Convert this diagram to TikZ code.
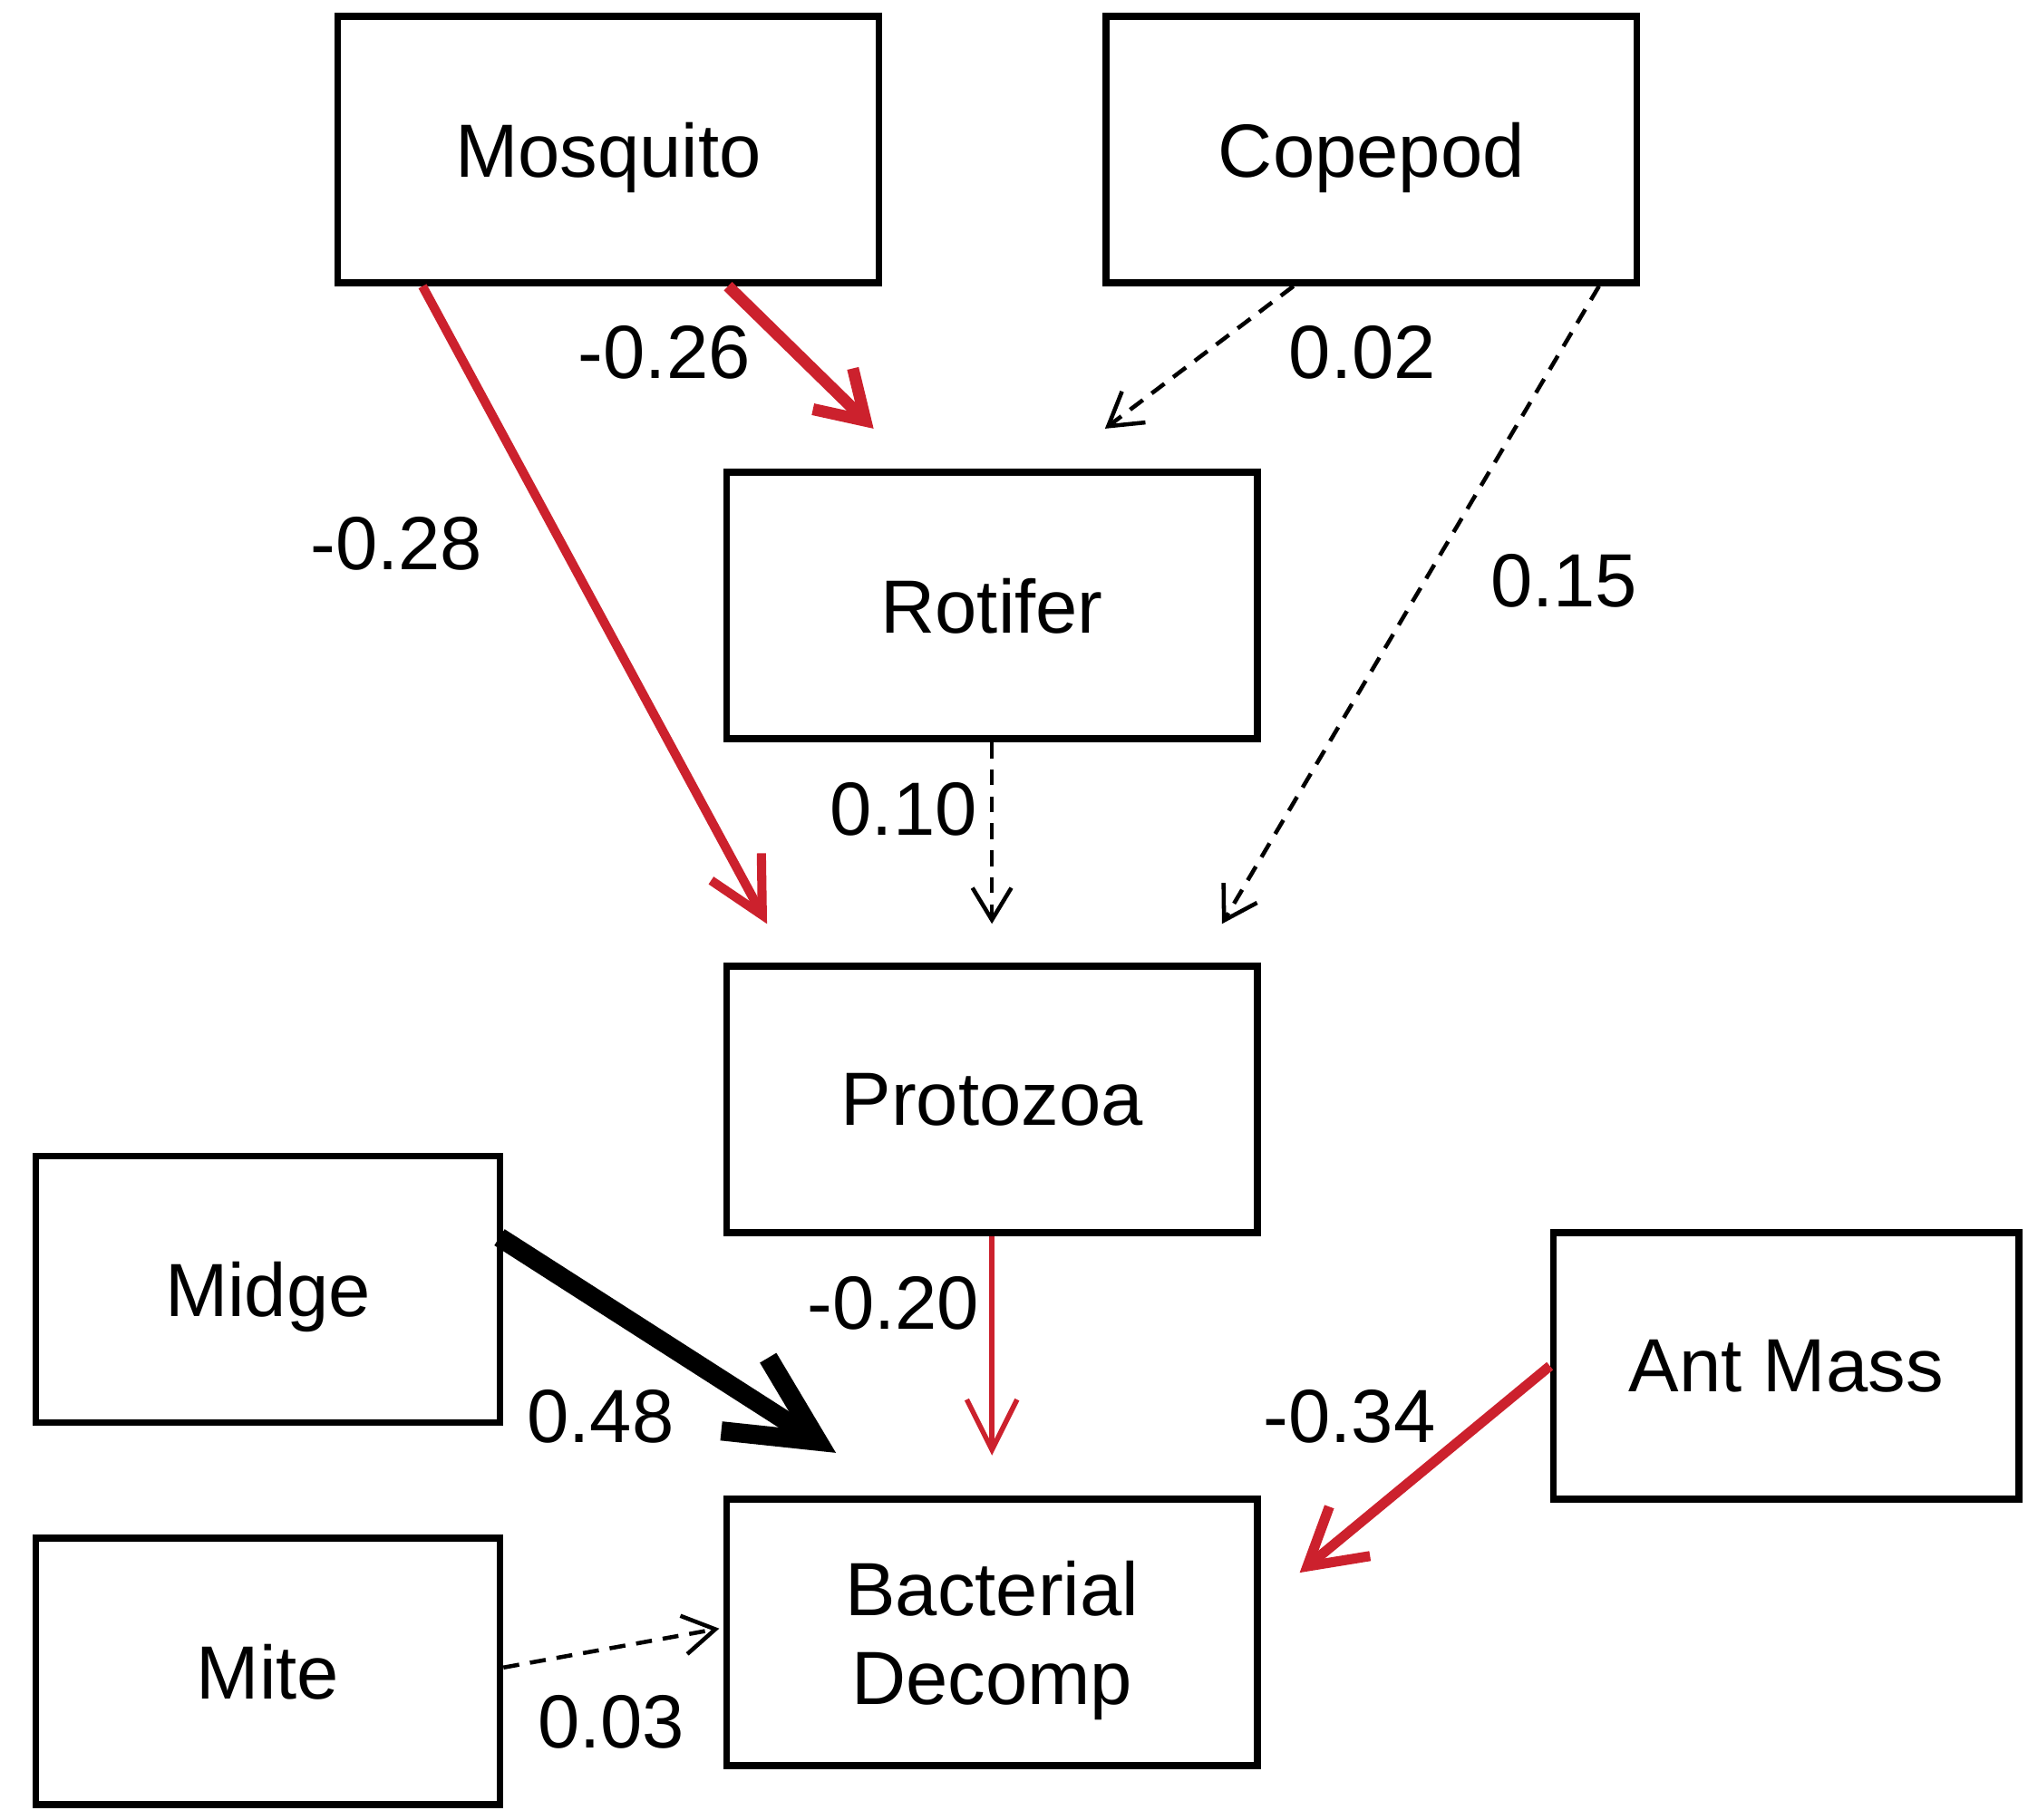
\documentclass[tikz,border=0pt]{standalone}
\usepackage{fontspec}
\setmainfont{Liberation Sans}
\usetikzlibrary{arrows.meta,calc}
\definecolor{pathred}{RGB}{204,33,45}

\begin{document}
\begin{tikzpicture}[x=0.01cm,y=0.01cm,
		font=\fontsize{16.5}{19.5}\selectfont,
		taxon/.style={draw,line width=1.5pt,minimum width=4.08cm,minimum height=2.05cm,align=center,text depth=0pt},
		side/.style={taxon,minimum width=3.57cm},
		coef/.style={inner sep=0pt},
		neg/.style={draw=pathred},
		weak/.style={dash pattern=on 3.5pt off 2.4pt,line width=0.9pt,-{Straight Barb[length=7pt,width=8.5pt]}}]
		\useasboundingbox (0,0) rectangle (1560,1400);
		\node[taxon,minimum width=4.16cm] (mos) at (468,1285) {Mosquito};
		\node[taxon] (cop) at (1055,1285) {Copepod};
		\node[taxon] (rot) at (763,934) {Rotifer};
		\node[taxon] (pro) at (763,554) {Protozoa};
		\node[taxon] (bac) at (763,144) {Bacterial\\Decomp};
		\node[side] (mid) at (206,408) {Midge};
		\node[side] (mit) at (206,114) {Mite};
		\node[side,minimum width=3.58cm] (ant) at (1374,349) {Ant Mass};
		\draw[neg,line width=2.6pt,-{Straight Barb[length=10pt,width=12.5pt]}] ($(mos.south)+(92,0)$) -- ($(rot.north)+(-91,31)$);
		\draw[neg,line width=2pt,-{Straight Barb[length=12pt,width=12.5pt]}] ($(mos.south)+(-143,0)$) -- ($(pro.north)+(-173,30)$);
		\draw[weak] ($(cop.south)+(-60,0)$) -- ($(rot.north)+(87,31)$);
		\draw[weak] ($(cop.south)+(175,0)$) -- ($(pro.north)+(177,30)$);
		\draw[weak] (rot.south) -- ($(pro.north)+(0,30)$);
		\draw[neg,line width=1.1pt,-{Straight Barb[length=11pt,width=11pt]}] (pro.south) -- ($(bac.north)+(0,31)$);
		\draw[line width=4.2pt,-{Straight Barb[length=19pt,width=19pt]}] ($(mid.east)+(-3,40)$) -- ($(bac.north)+(-120,33)$);
		\draw[neg,line width=2.2pt,-{Straight Barb[length=12pt,width=14pt]}] (ant.west) -- ($(bac.east)+(30,46)$);
		\draw[weak] ($(mit.east)+(0,3)$) -- ($(bac.west)+(-3,3)$);
		\node[coef] (c26) at (511,1129) {-0.26};
		\node[coef] (c28) at (305,982) {-0.28};
		\node[coef] (c02) at (1048,1129) {0.02};
		\node[coef] (c15) at (1203,953) {0.15};
		\node[coef] (c10) at (695,777) {0.10};
		\node[coef] (c20) at (687,397) {-0.20};
		\node[coef] (c48) at (462,310) {0.48};
		\node[coef] (c34) at (1038,310) {-0.34};
		\node[coef] (c03) at (470,75) {0.03};
	\end{tikzpicture}
\end{document}
